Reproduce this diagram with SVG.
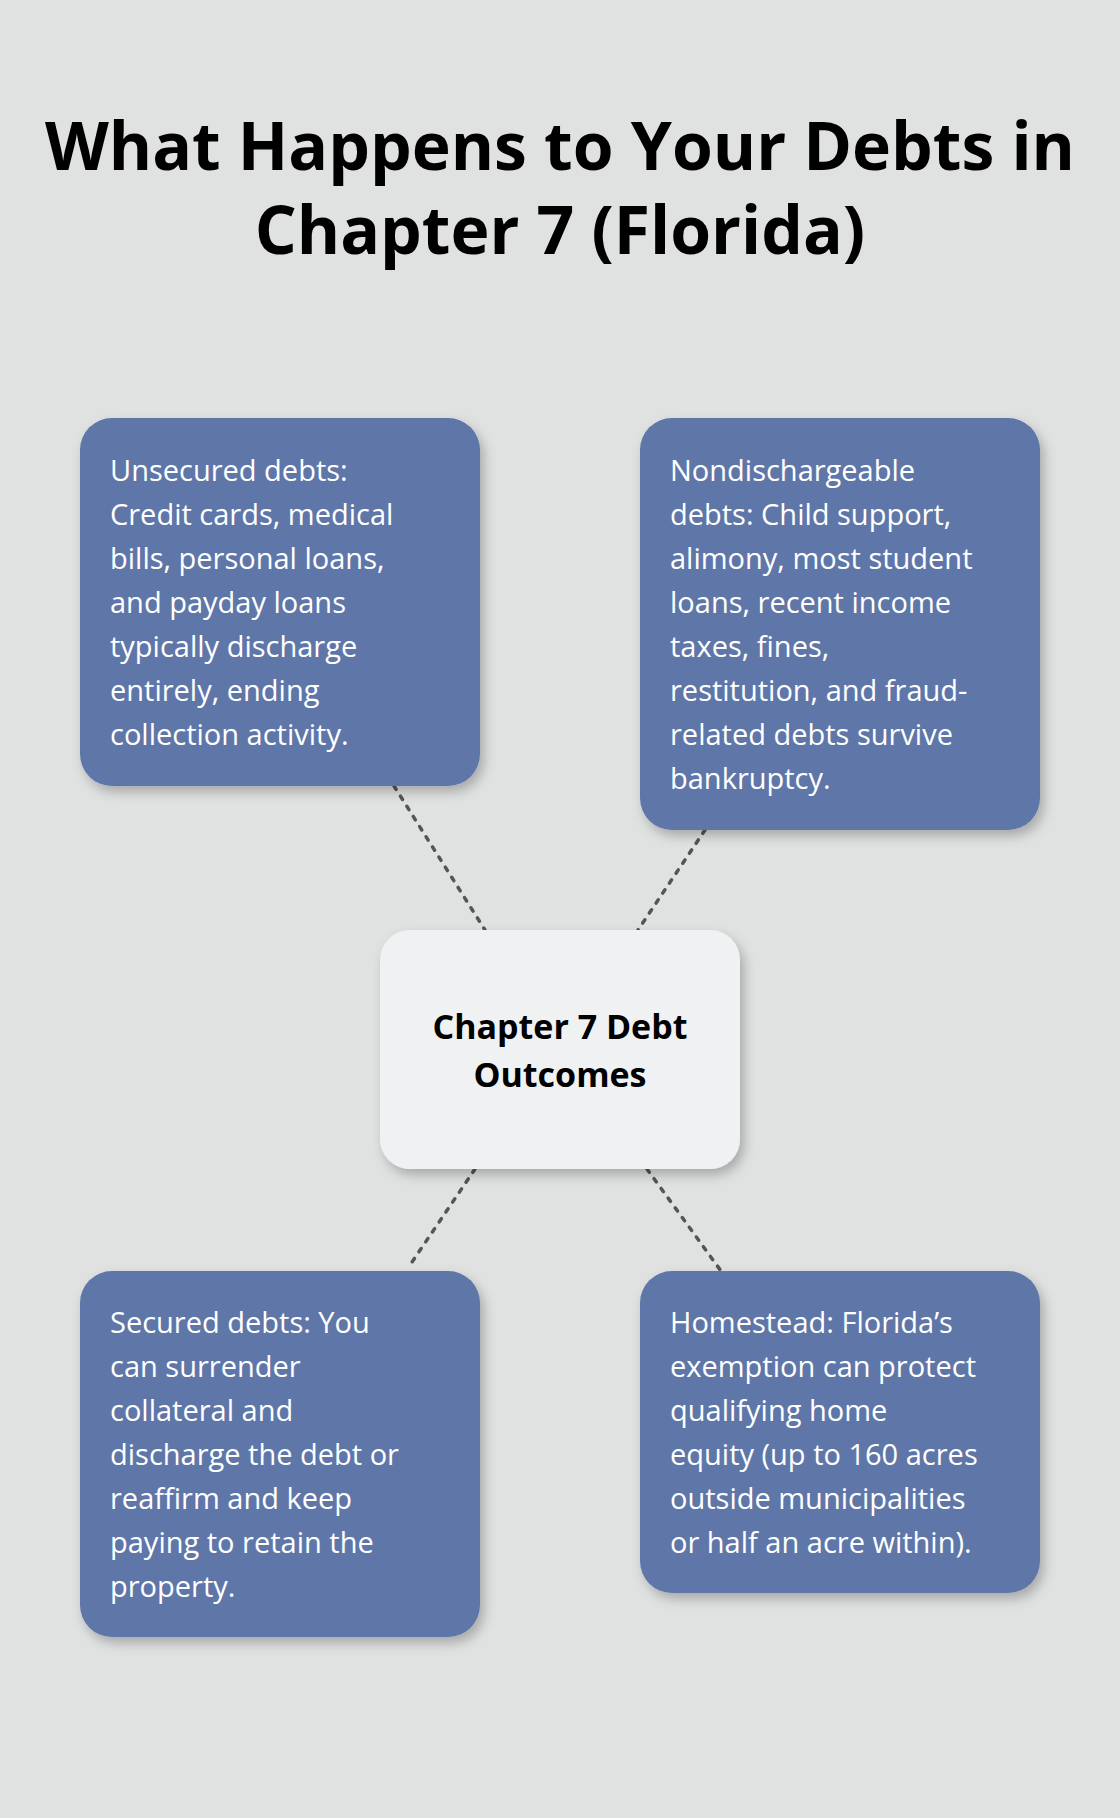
<svg xmlns="http://www.w3.org/2000/svg" width="1120" height="1818" viewBox="0 0 1120 1818">
<defs>
<filter id="sh" x="-10%" y="-10%" width="130%" height="130%"><feDropShadow dx="4" dy="6" stdDeviation="6" flood-color="#000" flood-opacity="0.25"/></filter>
<style>
.t{font-family:"Open Sans","Noto Sans",sans-serif;font-weight:700;font-size:66px;fill:#000;text-anchor:middle}
.b{fill:#5e77a8;filter:url(#sh)}
.c{fill:#f0f1f3;filter:url(#sh)}
.x{font-family:"Open Sans","Noto Sans",sans-serif;font-size:29px;fill:#fff}
.ct{font-family:"Open Sans","Noto Sans",sans-serif;font-weight:700;font-size:34px;fill:#000;text-anchor:middle}
.l{stroke:#555;stroke-width:3.5;stroke-dasharray:4 8;stroke-linecap:round;fill:none}
</style>
</defs>
<rect width="1120" height="1818" fill="#e0e2e1"/>
<text class="t" x="560" y="170">What Happens to Your Debts in</text>
<text class="t" x="560" y="254">Chapter 7 (Florida)</text>
<g id="connectors">
<line class="l" x1="394" y1="786" x2="485" y2="930"/>
<line class="l" x1="705" y1="830" x2="638" y2="930"/>
<line class="l" x1="475" y1="1169" x2="408" y2="1268"/>
<line class="l" x1="647" y1="1169" x2="721" y2="1271"/>
</g>
<g id="center"><rect class="c" x="380" y="930" width="360" height="239" rx="30"/>
<text class="ct" x="560" y="1039">Chapter 7 Debt</text><text class="ct" x="560" y="1087">Outcomes</text></g>
<g id="unsecured"><rect class="b" x="80" y="418" width="400" height="368" rx="32"/>
<text class="x"><tspan x="110" y="481">Unsecured debts:</tspan><tspan x="110" y="525">Credit cards, medical</tspan><tspan x="110" y="569">bills, personal loans,</tspan><tspan x="110" y="613">and payday loans</tspan><tspan x="110" y="657">typically discharge</tspan><tspan x="110" y="701">entirely, ending</tspan><tspan x="110" y="745">collection activity.</tspan></text></g>
<g id="nondischargeable"><rect class="b" x="640" y="418" width="400" height="412" rx="32"/>
<text class="x"><tspan x="670" y="481">Nondischargeable</tspan><tspan x="670" y="525">debts: Child support,</tspan><tspan x="670" y="569">alimony, most student</tspan><tspan x="670" y="613">loans, recent income</tspan><tspan x="670" y="657">taxes, fines,</tspan><tspan x="670" y="701">restitution, and fraud-</tspan><tspan x="670" y="745">related debts survive</tspan><tspan x="670" y="789">bankruptcy.</tspan></text></g>
<g id="secured"><rect class="b" x="80" y="1271" width="400" height="366" rx="32"/>
<text class="x"><tspan x="110" y="1333">Secured debts: You</tspan><tspan x="110" y="1377">can surrender</tspan><tspan x="110" y="1421">collateral and</tspan><tspan x="110" y="1465">discharge the debt or</tspan><tspan x="110" y="1509">reaffirm and keep</tspan><tspan x="110" y="1553">paying to retain the</tspan><tspan x="110" y="1597">property.</tspan></text></g>
<g id="homestead"><rect class="b" x="640" y="1271" width="400" height="322" rx="32"/>
<text class="x"><tspan x="670" y="1333">Homestead: Florida’s</tspan><tspan x="670" y="1377">exemption can protect</tspan><tspan x="670" y="1421">qualifying home</tspan><tspan x="670" y="1465">equity (up to 160 acres</tspan><tspan x="670" y="1509">outside municipalities</tspan><tspan x="670" y="1553">or half an acre within).</tspan></text></g>
</svg>
